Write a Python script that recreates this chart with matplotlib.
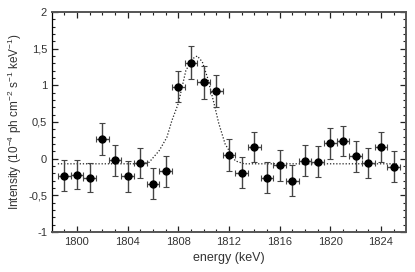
import numpy as np
import matplotlib
matplotlib.use("Agg")
import matplotlib.pyplot as plt
from matplotlib.ticker import MultipleLocator, FuncFormatter

plt.rcParams["font.family"] = ["Liberation Sans", "DejaVu Sans"]
plt.rcParams["mathtext.fontset"] = "custom"
plt.rcParams["mathtext.rm"] = "Liberation Sans"
plt.rcParams["mathtext.it"] = "Liberation Sans:italic"

# measured spectrum (energy bins of 1 keV)
energy = np.arange(1799, 1826)
intensity = [-0.23, -0.22, -0.26, 0.27, -0.02, -0.24, -0.06, -0.34, -0.17,
             0.98, 1.31, 1.04, 0.92, 0.05, -0.19, 0.16, -0.26, -0.09,
             -0.30, -0.03, -0.04, 0.21, 0.24, 0.03, -0.06, 0.16, -0.11]
intensity_err = [0.21, 0.20, 0.20, 0.22, 0.21, 0.21, 0.20, 0.21, 0.21,
                 0.21, 0.22, 0.22, 0.22, 0.22, 0.21, 0.21, 0.21, 0.21,
                 0.21, 0.21, 0.21, 0.21, 0.21, 0.21, 0.21, 0.21, 0.21]
energy_err = 0.5

# fitted line profile
fit_energy = [1798.5, 1805.0, 1805.7, 1806.5, 1807.1, 1807.5, 1808.0, 1808.6,
              1809.1, 1809.5, 1809.9, 1810.3, 1810.8, 1811.2, 1811.7, 1812.5,
              1813.2, 1825.3]
fit_intensity = [-0.07, -0.07, -0.05, 0.11, 0.29, 0.52, 0.75, 1.20,
                 1.36, 1.40, 1.32, 1.11, 0.77, 0.48, 0.20, -0.03,
                 -0.07, -0.07]

fig = plt.figure(figsize=(4.15, 2.72), dpi=100)
ax = fig.add_axes([0.1253, 0.147, 0.8527, 0.809])

ax.plot(fit_energy, fit_intensity, color="#222222", linestyle=(0, (1, 1.5)),
        linewidth=0.9, zorder=2)

ax.errorbar(energy, intensity, yerr=intensity_err, xerr=energy_err,
            fmt="o", color="black", markersize=5, ecolor="#444444",
            elinewidth=1.0, capsize=2.2, capthick=0.8, zorder=3)

ax.set_xlim(1798.04, 1825.96)
ax.set_ylim(-1, 2)

ax.xaxis.set_major_locator(MultipleLocator(4))
ax.xaxis.set_minor_locator(MultipleLocator(1))
ax.yaxis.set_major_locator(MultipleLocator(0.5))
ax.yaxis.set_minor_locator(MultipleLocator(0.1))
ax.yaxis.set_major_formatter(
    FuncFormatter(lambda v, p: f"{v:g}".replace(".", ",")))

ax.tick_params(which="both", direction="in", top=True, right=True,
               labelsize=8, labelcolor="#333333", color="#222222")
ax.tick_params(which="major", length=4, width=0.9)
ax.tick_params(which="minor", length=2.5, width=0.8)

for side in ["top", "right", "bottom"]:
    ax.spines[side].set_color("#555555")
    ax.spines[side].set_linewidth(1.4)
ax.spines["left"].set_linewidth(0.9)

ax.set_xlabel("energy (keV)", fontsize=9, color="#333333", labelpad=4)
ax.set_ylabel(r"Intensity (10$^{-4}$ ph cm$^{-2}$ s$^{-1}$ keV$^{-1}$)",
              fontsize=8.5, color="#333333", labelpad=3)

fig.savefig("out.png", dpi=100)
